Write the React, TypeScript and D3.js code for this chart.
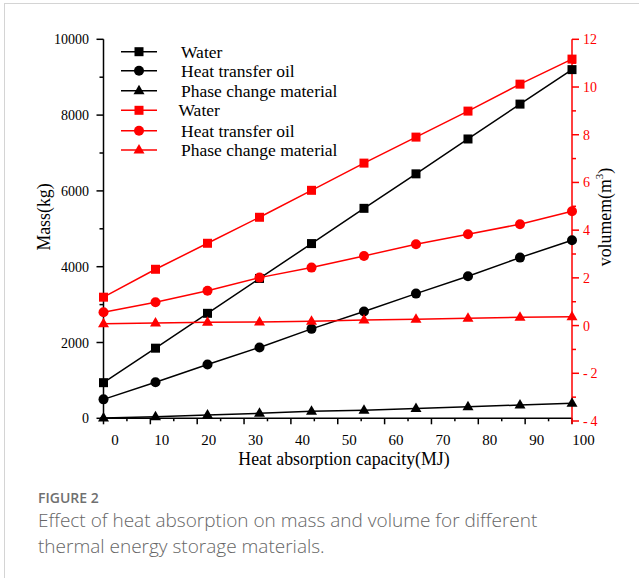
import React, { useEffect, useRef } from 'react';
import * as d3 from 'd3';

// heat absorption capacity (MJ)
const heat = [0, 11.1, 22.2, 33.3, 44.4, 55.6, 66.7, 77.8, 88.9, 100];

// mass (kg), left axis
const massWater = [940, 1850, 2770, 3690, 4610, 5540, 6450, 7370, 8290, 9200];
const massOil = [500, 950, 1420, 1870, 2360, 2820, 3290, 3750, 4240, 4700];
const massPcm = [10, 40, 90, 130, 185, 215, 260, 305, 350, 395];

// volume (m3), right axis
const volWater = [1.19, 2.36, 3.45, 4.54, 5.67, 6.81, 7.9, 8.99, 10.12, 11.17];
const volOil = [0.56, 0.98, 1.46, 2.01, 2.43, 2.92, 3.41, 3.83, 4.25, 4.79];
const volPcm = [0.08, 0.11, 0.14, 0.15, 0.18, 0.23, 0.26, 0.31, 0.35, 0.37];

const legendLabels = ['Water', 'Heat transfer oil', 'Phase change material'];
const xTicks = [0, 10, 20, 30, 40, 50, 60, 70, 80, 90, 100];
const massTicks = [0, 2000, 4000, 6000, 8000, 10000];
const volTicks = [-4, -2, 0, 2, 4, 6, 8, 10, 12];

const App = () => {
  const svgRef = useRef<SVGSVGElement>(null);

  useEffect(() => {
    const svg = d3.select(svgRef.current);
    svg.selectAll('*').remove();
    const serif = '"Liberation Serif", "Times New Roman", serif';

    const x = d3.scaleLinear().domain([0, 100]).range([103.5, 572]);
    const yL = d3.scaleLinear().domain([0, 10000]).range([418.3, 39.3]);
    const yR = d3.scaleLinear().domain([-4, 12]).range([421, 39.3]);

    // card border
    svg.append('rect')
      .attr('x', 4.5).attr('y', 3.5).attr('width', 700).attr('height', 700)
      .attr('fill', 'none').attr('stroke', '#d4d4d4');

    // x axis
    const gx = svg.append('g').attr('stroke', '#000').attr('stroke-width', 1.5);
    gx.append('line').attr('x1', 100).attr('x2', x(100)).attr('y1', 418.3).attr('y2', 418.3);
    d3.range(0, 101, 5).forEach((v) => {
      const major = v % 10 === 0;
      gx.append('line').attr('x1', x(v)).attr('x2', x(v))
        .attr('y1', 418.3).attr('y2', 418.3 + (major ? 6 : 3));
    });
    svg.append('g').selectAll('text').data(xTicks).join('text')
      .attr('x', (d) => x(d) + 11.5).attr('y', 445)
      .attr('text-anchor', 'middle').attr('font-family', serif).attr('font-size', 15)
      .text((d) => d);
    svg.append('text').attr('x', 344).attr('y', 465)
      .attr('text-anchor', 'middle').attr('font-family', serif).attr('font-size', 17.8)
      .text('Heat absorption capacity(MJ)');

    // left axis
    const gl = svg.append('g').attr('stroke', '#000').attr('stroke-width', 1.5);
    gl.append('line').attr('x1', x(0)).attr('x2', x(0)).attr('y1', yL(0)).attr('y2', yL(10000));
    d3.range(0, 10001, 1000).forEach((v) => {
      const major = v % 2000 === 0;
      gl.append('line').attr('x1', x(0)).attr('x2', x(0) - (major ? 7 : 4))
        .attr('y1', yL(v)).attr('y2', yL(v));
    });
    svg.append('g').selectAll('text').data(massTicks).join('text')
      .attr('x', 89).attr('y', (d) => yL(d) + 5)
      .attr('text-anchor', 'end').attr('font-family', serif).attr('font-size', 14)
      .text((d) => d);
    svg.append('text')
      .attr('transform', 'translate(50,217) rotate(-90)')
      .attr('text-anchor', 'middle').attr('font-family', serif).attr('font-size', 17.8)
      .text('Mass(kg)');

    // right axis
    const gr = svg.append('g').attr('stroke', 'red').attr('stroke-width', 1.5);
    gr.append('line').attr('x1', x(100)).attr('x2', x(100)).attr('y1', 424).attr('y2', yR(12));
    d3.range(-4, 13, 1).forEach((v) => {
      const major = v % 2 === 0;
      gr.append('line').attr('x1', x(100)).attr('x2', x(100) + (major ? 7 : 4))
        .attr('y1', yR(v)).attr('y2', yR(v));
    });
    svg.append('g').selectAll('text').data(volTicks).join('text')
      .attr('x', 583).attr('y', (d) => yR(d) + 5)
      .attr('fill', 'red').attr('font-family', serif).attr('font-size', 14)
      .text((d) => (d < 0 ? `-\u2009${-d}` : `${d}`));
    const vt = svg.append('text')
      .attr('transform', 'translate(611,217) rotate(-90)')
      .attr('text-anchor', 'middle').attr('font-family', serif).attr('font-size', 17.8);
    vt.append('tspan').text('volumem(m');
    vt.append('tspan').attr('font-size', 11).attr('dy', -8).text('3');
    vt.append('tspan').attr('dy', 8).text(')');

    // markers
    const drawMarker = (g: any, kind: number, cx: number, cy: number, color: string) => {
      if (kind === 0) {
        g.append('rect').attr('x', cx - 4.5).attr('y', cy - 4.5).attr('width', 9).attr('height', 9)
          .attr('fill', color);
      } else if (kind === 1) {
        g.append('circle').attr('cx', cx).attr('cy', cy).attr('r', 5).attr('fill', color);
      } else {
        g.append('path').attr('d', `M${cx},${cy - 6}L${cx + 5.5},${cy + 3.5}L${cx - 5.5},${cy + 3.5}Z`)
          .attr('fill', color);
      }
    };

    const series = [
      { vals: massWater, y: yL, color: '#000', kind: 0 },
      { vals: massOil, y: yL, color: '#000', kind: 1 },
      { vals: massPcm, y: yL, color: '#000', kind: 2 },
      { vals: volWater, y: yR, color: 'red', kind: 0 },
      { vals: volOil, y: yR, color: 'red', kind: 1 },
      { vals: volPcm, y: yR, color: 'red', kind: 2 },
    ];

    series.forEach((s) => {
      const g = svg.append('g');
      const line = d3.line<number>().x((_, i) => x(heat[i])).y((d) => s.y(d));
      g.append('path').attr('d', line(s.vals)).attr('fill', 'none')
        .attr('stroke', s.color).attr('stroke-width', 1.5);
      s.vals.forEach((v, i) => drawMarker(g, s.kind, x(heat[i]), s.y(v), s.color));
    });

    // legend
    const rowY = [51.7, 70.7, 90.7, 110.3, 130.7, 150];
    series.forEach((s, i) => {
      const g = svg.append('g');
      g.append('line').attr('x1', 121).attr('x2', 157).attr('y1', rowY[i]).attr('y2', rowY[i])
        .attr('stroke', s.color).attr('stroke-width', 1.5);
      drawMarker(g, s.kind, 139, rowY[i], s.color);
      g.append('text').attr('x', i === 3 ? 178.5 : 181).attr('y', rowY[i] + 6)
        .attr('font-family', serif).attr('font-size', 17.5)
        .text(legendLabels[i % 3]);
    });

    // caption
    const sans = '"Open Sans", "Noto Sans", sans-serif';
    svg.append('text').attr('x', 38).attr('y', 503)
      .attr('font-family', sans).attr('font-size', 14).attr('font-weight', 600).attr('fill', '#707070')
      .text('FIGURE 2');
    svg.append('text').attr('x', 38).attr('y', 527)
      .attr('font-family', sans).attr('font-size', 19).attr('font-weight', 300).attr('fill', '#666')
      .text('Effect of heat absorption on mass and volume for different');
    svg.append('text').attr('x', 38).attr('y', 553)
      .attr('font-family', sans).attr('font-size', 19).attr('font-weight', 300).attr('fill', '#666')
      .text('thermal energy storage materials.');
  }, []);

  return (
    <svg ref={svgRef} width={639} height={578}
      style={{ position: 'absolute', left: 0, top: 0, background: '#fff' }} />
  );
};

export default App;
